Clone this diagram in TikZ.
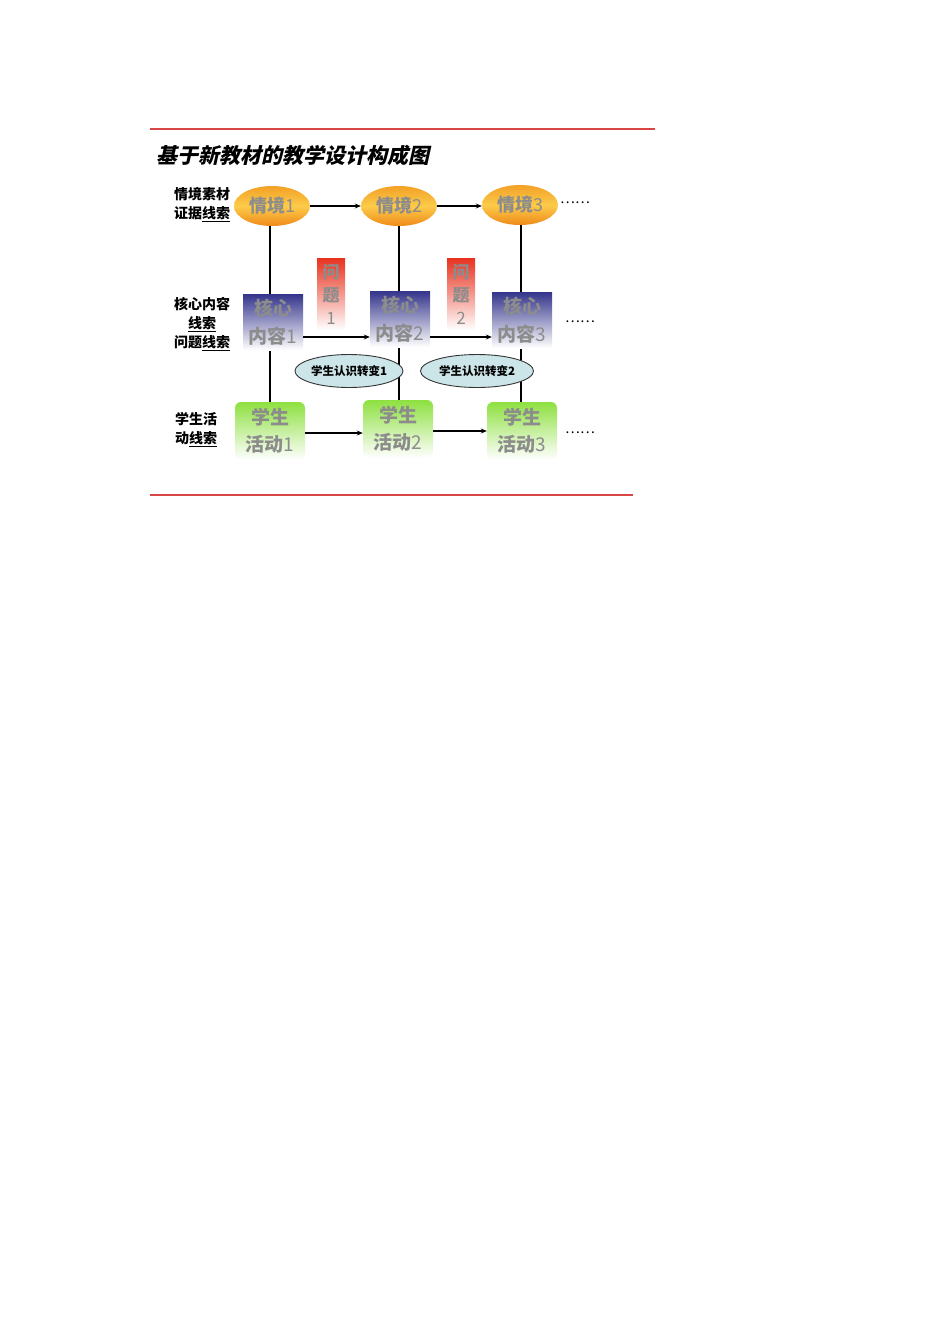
\documentclass[tikz,border=0pt]{standalone}
\usepackage{fontspec}
\usetikzlibrary{shapes.geometric,arrows.meta,backgrounds}
\newfontfamily\cjk{Noto Sans CJK SC}
\newfontfamily\titlefont[FakeSlant=0.22]{Noto Sans CJK SC}
\definecolor{redline}{HTML}{D84545}
\definecolor{graytxt}{HTML}{8C8C8C}
\definecolor{orgtop}{HTML}{F2A126}
\definecolor{orgmid}{HTML}{FCCB4A}
\definecolor{orgbot}{HTML}{EE8A18}
\definecolor{bluetop}{HTML}{34348C}
\definecolor{redtop}{HTML}{E8321E}
\definecolor{greentop}{HTML}{8EE040}
\definecolor{cyanfill}{HTML}{CCE5E8}
\tikzset{
  sit/.style={ellipse, minimum width=76, minimum height=40, inner sep=0pt,
    top color=orgtop, bottom color=orgbot, middle color=orgmid,
    font=\cjk\bfseries\fontsize{18}{18}\selectfont, text=graytxt},
  core/.style={rectangle, minimum width=60, minimum height=56, inner sep=0pt,
    top color=bluetop, bottom color=white, align=center,
    font=\cjk\bfseries\fontsize{19}{28}\selectfont, text=graytxt},
  qbox/.style={rectangle, minimum width=28, minimum height=72, inner sep=0pt,
    top color=redtop, bottom color=white, align=center,
    font=\cjk\bfseries\fontsize{17}{23}\selectfont, text=graytxt},
  act/.style={rectangle, rounded corners=6, minimum width=70, minimum height=58, inner sep=0pt,
    top color=greentop, bottom color=white, align=center,
    font=\cjk\bfseries\fontsize{19}{27}\selectfont, text=graytxt},
  chg/.style={ellipse, minimum height=33, inner sep=0pt, fill=cyanfill, draw=black!80, line width=0.9,
    font=\cjk\bfseries\fontsize{11.5}{12}\selectfont},
  lab/.style={align=center, font=\cjk\bfseries\fontsize{14}{19}\selectfont, inner sep=0pt},
  dots/.style={font=\cjk\fontsize{14}{14}\selectfont, inner sep=0pt},
  ln/.style={line width=1.4, black},
  arr/.style={line width=1.4, black, -{Stealth[length=6,width=5]}},
  rl/.style={line width=1.1, redline}
}
\newcommand{\dg}[1]{{\mdseries #1}}
\begin{document}
\begin{tikzpicture}[x=1pt,y=-1pt]
\useasboundingbox (0,0) rectangle (950,1344);
% red rules
\coordinate (r1a) at (150,129); \coordinate (r1b) at (655,129);
\coordinate (r2a) at (150,495); \coordinate (r2b) at (633,495);
\draw[rl] (r1a) -- (r1b);
\draw[rl] (r2a) -- (r2b);
% title
\node[anchor=west, inner sep=0pt, font=\titlefont\bfseries\fontsize{21}{21}\selectfont] (title) at (156,155) {基于新教材的教学设计构成图};
% left labels
\node[lab] (l1) at (202,205) {情境素材\\证据\underline{线索}};
\node[lab] (l2) at (202,324) {核心内容\\\underline{线索}\\问题\underline{线索}};
\node[lab] (l3) at (196,430) {学生活\\动\underline{线索}};
% situation row
\node[sit] (s1) at (272,206) {情境\dg{1}};
\node[sit] (s2) at (399,206) {情境\dg{2}};
\node[sit] (s3) at (520,205) {情境\dg{3}};
\node[dots] (d1) at (575,203) {……};
% question boxes
\node[qbox] (q1) at (331,294) {问\\题\\\dg{1}};
\node[qbox] (q2) at (461,294) {问\\题\\\dg{2}};
% core content row
\node[core] (c1) at (273,322) {核心\\内容\dg{1}};
\node[core] (c2) at (400,319) {核心\\内容\dg{2}};
\node[core] (c3) at (522,320) {核心\\内容\dg{3}};
\node[dots] (d2) at (580,322) {……};
% cognition change ellipses
\node[chg, minimum width=108] (e1) at (349,371) {学生认识转变1};
\node[chg, minimum width=113] (e2) at (477,371) {学生认识转变2};
% activity row
\node[act] (a1) at (270,431) {学生\\活动\dg{1}};
\node[act] (a2) at (398,429) {学生\\活动\dg{2}};
\node[act] (a3) at (522,431) {学生\\活动\dg{3}};
\node[dots] (d3) at (580,433) {……};
% connectors
\begin{pgfonlayer}{background}
\draw[ln] (s1.south -| 270,0) -- (c1.north -| 270,0);
\draw[ln] (c1.south -| 270,0) -- (a1.north -| 270,0);
\draw[ln] (s2.south -| 399,0) -- (c2.north -| 399,0);
\draw[ln] (c2.south -| 399,0) -- (a2.north -| 399,0);
\draw[ln] (s3.south -| 521,0) -- (c3.north -| 521,0);
\draw[ln] (c3.south -| 521,0) -- (a3.north -| 521,0);
\end{pgfonlayer}
\draw[arr] (s1) -- (s2);
\draw[arr] (s2.east) -- (s2.east -| s3.west);
\draw[arr] ([yshift=-15]c1.east) -- ([yshift=-15]c1.east -| c2.west);
\draw[arr] ([yshift=-18]c2.east) -- ([yshift=-18]c2.east -| c3.west);
\draw[arr] ([yshift=-2]a1.east) -- ([yshift=-2]a1.east -| a2.west);
\draw[arr] ([yshift=-2]a2.east) -- ([yshift=-2]a2.east -| a3.west);
\end{tikzpicture}
\end{document}
